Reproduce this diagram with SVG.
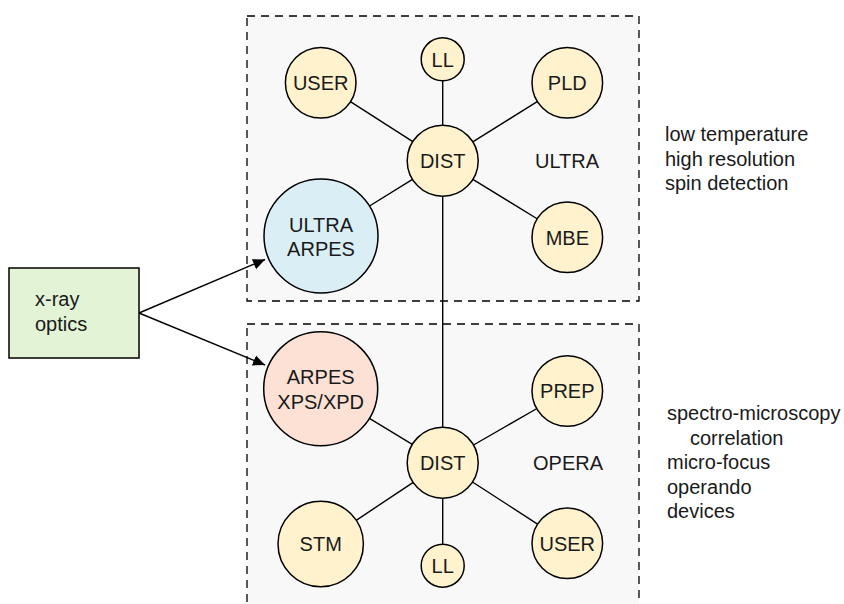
<svg xmlns="http://www.w3.org/2000/svg" width="844" height="604" viewBox="0 0 844 604">
<defs>
<style>
text{font-family:"Liberation Sans",Arial,sans-serif;font-size:20px;fill:#1a1a1a}
.c{text-anchor:middle}
.n{stroke:#000;stroke-width:1.5}
.y{fill:#fff2cc}
.grp{fill:#f8f8f8;stroke:#000;stroke-width:1.3;stroke-dasharray:8 6}
.ln{stroke:#000;stroke-width:1.4;fill:none}
</style>
<marker id="ah" viewBox="0 0 10 10" refX="10" refY="5" markerWidth="12" markerHeight="12" markerUnits="userSpaceOnUse" orient="auto">
<path d="M0,0.5 L10,5 L0,9.5 z" fill="#000"/>
</marker>
</defs>
<rect width="844" height="604" fill="#fff"/>
<g id="group-ultra"><rect class="grp" x="247" y="16" width="392" height="285"/><text class="c" x="567" y="168">ULTRA</text></g>
<g id="group-opera"><rect class="grp" x="247" y="324" width="392" height="300"/><text class="c" x="568" y="470">OPERA</text></g>
<g id="connectors">
<line class="ln" x1="412.8" y1="141.6" x2="350.4" y2="101.7"/>
<line class="ln" x1="472.8" y1="141.9" x2="537.6" y2="101.3"/>
<line class="ln" x1="442.7" y1="125.2" x2="442.7" y2="80.8"/>
<line class="ln" x1="412.5" y1="179.4" x2="369.5" y2="206"/>
<line class="ln" x1="472.9" y1="179.3" x2="537.5" y2="219"/>
<line class="ln" x1="442.7" y1="196.2" x2="442.7" y2="427.2"/>
<line class="ln" x1="412.3" y1="444.3" x2="369.4" y2="418.3"/>
<line class="ln" x1="473.5" y1="445" x2="537" y2="408.5"/>
<line class="ln" x1="413.2" y1="482.4" x2="356.2" y2="520.3"/>
<line class="ln" x1="472.5" y1="482" x2="537.9" y2="524.3"/>
<line class="ln" x1="442.7" y1="498.2" x2="442.7" y2="544.2"/>
<line class="ln" x1="139" y1="313" x2="265" y2="259.5" marker-end="url(#ah)"/>
<line class="ln" x1="139" y1="313" x2="265" y2="365" marker-end="url(#ah)"/>
</g>
<g id="xray"><rect x="9" y="268" width="130" height="90" fill="#e2f3d6" stroke="#000" stroke-width="1.5"/><text x="35" y="306">x-ray</text><text x="35" y="331">optics</text></g>
<g id="u-ll"><circle class="n y" cx="442.7" cy="59.3" r="21.5"/><text class="c" x="442.7" y="66.5">LL</text></g>
<g id="u-user"><circle class="n y" cx="320.7" cy="82.7" r="35.3"/><text class="c" x="320.7" y="90">USER</text></g>
<g id="u-pld"><circle class="n y" cx="567.3" cy="82.7" r="35.3"/><text class="c" x="567.3" y="90">PLD</text></g>
<g id="u-dist"><circle class="n y" cx="442.7" cy="160.7" r="35.5"/><text class="c" x="442.7" y="168">DIST</text></g>
<g id="u-arpes"><circle class="n" fill="#d9eef5" cx="321" cy="236" r="57"/><text class="c" x="321" y="231.5">ULTRA</text><text class="c" x="321" y="255.5">ARPES</text></g>
<g id="u-mbe"><circle class="n y" cx="567.3" cy="237.3" r="35.3"/><text class="c" x="567.3" y="244.5">MBE</text></g>
<g id="o-arpes"><circle class="n" fill="#fce1d4" cx="320.7" cy="388.7" r="57"/><text class="c" x="320.7" y="384">ARPES</text><text class="c" x="320.7" y="408.5">XPS/XPD</text></g>
<g id="o-prep"><circle class="n y" cx="567.3" cy="391" r="35.3"/><text class="c" x="567.3" y="397.5">PREP</text></g>
<g id="o-dist"><circle class="n y" cx="442.7" cy="462.7" r="35.5"/><text class="c" x="442.7" y="470">DIST</text></g>
<g id="o-stm"><circle class="n y" cx="320.7" cy="544" r="42.7"/><text class="c" x="320.7" y="551">STM</text></g>
<g id="o-ll"><circle class="n y" cx="442.7" cy="565.7" r="21.5"/><text class="c" x="442.7" y="573">LL</text></g>
<g id="o-user"><circle class="n y" cx="567.3" cy="543.3" r="35.3"/><text class="c" x="567.3" y="550.5">USER</text></g>
<g id="notes-ultra"><text x="665" y="141">low temperature</text><text x="665" y="165.5">high resolution</text><text x="665" y="190">spin detection</text></g>
<g id="notes-opera"><text x="667" y="420">spectro-microscopy</text><text x="690" y="444.5">correlation</text><text x="667" y="469">micro-focus</text><text x="667" y="493.5">operando</text><text x="667" y="518">devices</text></g>
</svg>
